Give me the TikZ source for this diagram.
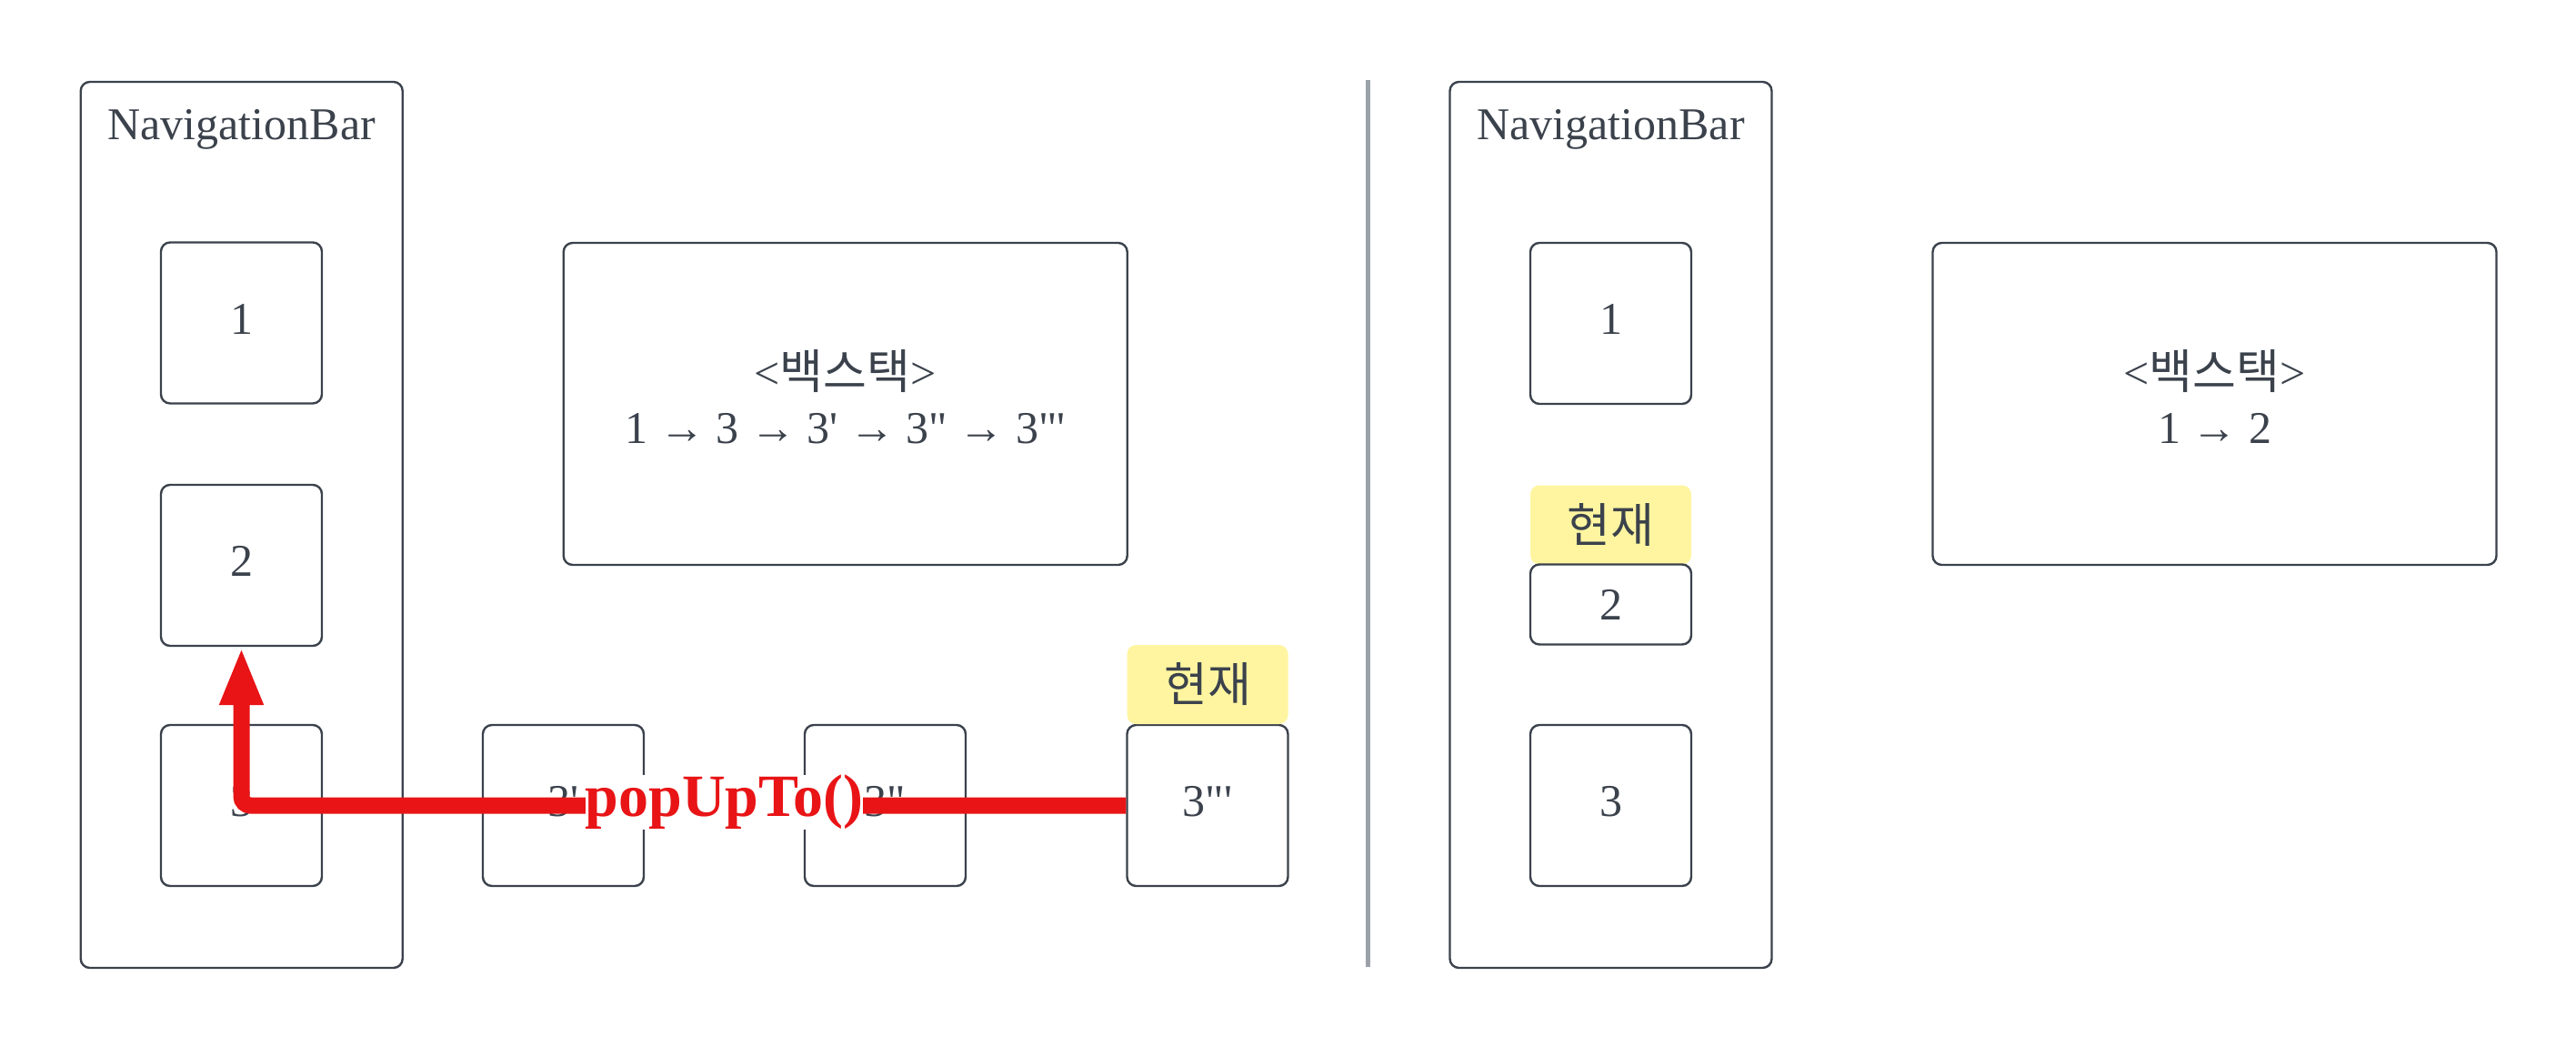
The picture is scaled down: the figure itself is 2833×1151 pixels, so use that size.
\documentclass[tikz,border=0pt]{standalone}
\usepackage{fontspec}
\newfontfamily\lat{Liberation Serif}
\newfontfamily\kr{Noto Sans CJK KR}
\usetikzlibrary{arrows.meta,calc}
\definecolor{ink}{HTML}{3B424C}
\definecolor{divgray}{HTML}{9BA1AA}
\definecolor{hl}{HTML}{FFF5A0}
\definecolor{popred}{HTML}{E81416}
\newcommand{\krtxt}[1]{{\kr\fontsize{26}{30}\selectfont #1}}
\begin{document}
\begin{tikzpicture}[x=0.5pt,y=-0.5pt,
  txt/.style={text=ink,font=\lat\fontsize{25}{30}\selectfont,inner sep=0pt},
  frame/.style={draw=ink,line width=1.2pt,rounded corners=5pt,inner sep=0pt},
  navbox/.style={frame,minimum width=177pt,minimum height=487pt},
  pagebox/.style={frame,txt,minimum width=88.5pt,minimum height=88.5pt,text height=17pt,text depth=5pt},
  halfbox/.style={frame,txt,minimum width=88.5pt,minimum height=44pt},
  curbox/.style={fill=hl,rounded corners=5pt,minimum width=88.5pt,minimum height=43.5pt,inner sep=0pt,text=ink,font=\kr\fontsize{26}{30}\selectfont},
  stackbox/.style={frame,minimum width=310pt,minimum height=177pt},
  redarrow/.style={draw=popred,line width=9pt,rounded corners=5pt,-{Triangle[length=32pt,width=22pt]}},
  poplabel/.style={fill=white,text=popred,inner sep=0pt,font=\lat\bfseries\fontsize{33}{36}\selectfont}
]
\useasboundingbox (0,0) rectangle (2833,1151);
% left panel
\node[navbox] (navL) at (265.75,577) {};
\node[txt,anchor=base] (navLt) at (265.75,153) {NavigationBar};
\node[pagebox] (b1) at (265.5,355) {1};
\node[pagebox] (b2) at (265.5,621.5) {2};
\node[pagebox] (b3) at (265.5,885.5) {3};
\node[pagebox] (b3p) at (619.5,885.5) {3'};
\node[pagebox] (b3pp) at (973.5,885.5) {3"};
\node[pagebox] (b3ppp) at (1328,885.5) {3"'};
\node[curbox] (curL) at (1328,752.5) {현재};
\node[stackbox] (stackL) at (929.75,444) {};
\node[txt,anchor=base] (stackLa) at (929.75,427) {<\krtxt{백스택}>};
\node[txt,anchor=base] (stackLb) at (929.75,487) {1 → 3 → 3' → 3" → 3"'};
% arrow
\draw[redarrow] (b3ppp.west) -- (b3.center) -- (b2.south);
\path (b3p.center) -- (b3pp.center) coordinate[midway] (popmid);
\node[poplabel,anchor=base] (pop) at ($(popmid)+(0,12)$) {popUpTo()};
% divider
\coordinate (dtop) at (1504,88);
\coordinate (dbot) at (1504,1063);
\draw[divgray,line width=2.5pt] (dtop) -- (dbot);
% right panel
\node[navbox] (navR) at (1771.5,577) {};
\node[txt,anchor=base] (navRt) at (1771.5,153) {NavigationBar};
\node[pagebox] (rb1) at (1771.5,355.5) {1};
\node[curbox] (curR) at (1771.5,577) {현재};
\node[halfbox] (rb2) at (1771.5,664.5) {2};
\node[pagebox] (rb3) at (1771.5,885.5) {3};
\node[stackbox] (stackR) at (2435.5,444) {};
\node[txt,anchor=base] (stackRa) at (2435.5,427) {<\krtxt{백스택}>};
\node[txt,anchor=base] (stackRb) at (2435.5,487) {1 → 2};
\end{tikzpicture}
\end{document}
